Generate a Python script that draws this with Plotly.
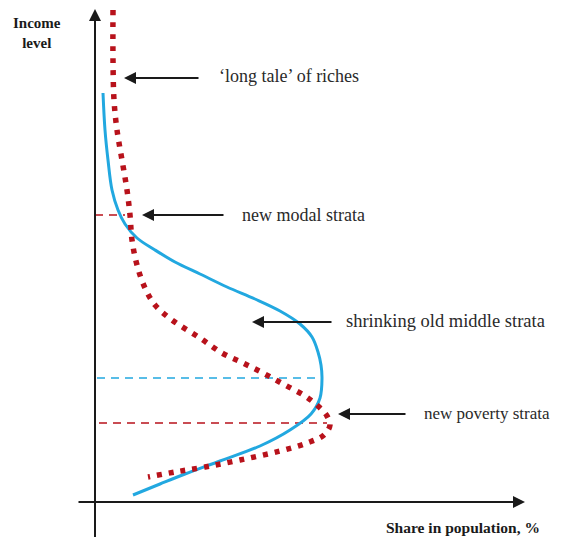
import plotly.graph_objects as go

# Conceptual data: share in population (x, arbitrary units) vs income level (y, arbitrary units)
new_share = [18, 18, 19, 22, 27, 32, 35, 37, 42, 50, 60, 77, 105, 127, 148, 168, 190, 210, 223, 232, 235, 229, 212, 185, 145, 110, 80, 53]
new_income = [492, 442, 402, 372, 342, 312, 287, 262, 237, 214, 197, 182, 164, 149, 139, 129, 117, 106, 96, 86, 77, 67, 59, 51, 42, 35, 30, 25]

old_share = [8, 10, 13, 17, 23, 30, 42, 60, 80, 105, 132, 160, 185, 205, 217, 223, 226, 227, 225, 216, 195, 165, 125, 90, 65, 38]
old_income = [409, 372, 342, 312, 292, 278, 264, 252, 240, 228, 215, 203, 191, 178, 165, 150, 137, 124, 104, 88, 72, 56, 41, 28, 18, 7]

# reference levels
modal_income = 287
modal_share = 30
old_mode_income = 124
old_mode_share = 225
poverty_income = 79
poverty_share = 232

# annotation labels: (text, arrow tip share, tip income, tail share, text share, text income, font size)
labels = [
    ("\u2018long tale\u2019 of riches", 29, 424, 105, 122, 426, 18),
    ("new modal strata", 47, 287, 130, 145, 287, 18),
    ("shrinking old middle strata", 157, 180, 238, 249, 181, 18.5),
    ("new poverty strata", 243, 88, 312, 327, 89, 17),
]

RED = "#B8121B"
BLUE = "#22A8E0"
INK = "#1a1a1a"
FONT = "Liberation Serif"

fig = go.Figure()

# dashed reference lines
fig.add_trace(go.Scatter(x=[0, modal_share], y=[modal_income, modal_income], mode="lines",
                         line=dict(color=RED, width=1.6, dash="8px,6px"), hoverinfo="skip"))
fig.add_trace(go.Scatter(x=[2, old_mode_share], y=[old_mode_income, old_mode_income], mode="lines",
                         line=dict(color=BLUE, width=1.6, dash="8px,6px"), hoverinfo="skip"))
fig.add_trace(go.Scatter(x=[4, poverty_share], y=[poverty_income, poverty_income], mode="lines",
                         line=dict(color=RED, width=1.6, dash="8px,6px"), hoverinfo="skip"))

# old distribution (solid blue)
fig.add_trace(go.Scatter(x=old_share, y=old_income, mode="lines",
                         line=dict(color=BLUE, width=3, shape="spline", smoothing=1.0), hoverinfo="skip"))
# new distribution (dotted red)
fig.add_trace(go.Scatter(x=new_share, y=new_income, mode="lines",
                         line=dict(color=RED, width=5.5, shape="spline", smoothing=1.0, dash="5px,7px"),
                         hoverinfo="skip"))

annotations = []
# axes with arrows
annotations.append(dict(x=0, y=493, ax=0, ay=-40, xref="x", yref="y", axref="x", ayref="y",
                        text="", showarrow=True, arrowhead=2, arrowsize=1.2, arrowwidth=2, arrowcolor=INK))
annotations.append(dict(x=430, y=0, ax=-18, ay=0, xref="x", yref="y", axref="x", ayref="y",
                        text="", showarrow=True, arrowhead=2, arrowsize=1.2, arrowwidth=2, arrowcolor=INK))

for text, tx, ty, tailx, lx, ly, fs in labels:
    annotations.append(dict(x=tx, y=ty, ax=tailx, ay=ty, xref="x", yref="y", axref="x", ayref="y",
                            text="", showarrow=True, arrowhead=2, arrowsize=1.2, arrowwidth=2, arrowcolor=INK))
    annotations.append(dict(x=lx, y=ly, xref="x", yref="y", text=text, showarrow=False,
                            xanchor="left", yanchor="middle",
                            font=dict(family=FONT, size=fs, color="#2a2a2a")))

annotations.append(dict(x=-58, y=469, xref="x", yref="y", text="<b>Income</b><br><b>level</b>",
                        showarrow=False, xanchor="center", yanchor="middle", align="center",
                        font=dict(family=FONT, size=15, color=INK)))
annotations.append(dict(x=289, y=-25, xref="x", yref="y", text="<b>Share in population, %</b>",
                        showarrow=False, xanchor="left", yanchor="middle",
                        font=dict(family=FONT, size=15.5, color=INK)))

# the page adds an 8px body margin, so the figure is 8px smaller and ranges compensate
fig.update_layout(
    width=555, height=529,
    margin=dict(l=0, r=0, t=0, b=0),
    paper_bgcolor="white", plot_bgcolor="white",
    showlegend=False,
    xaxis=dict(range=[-87, 468], visible=False, fixedrange=True),
    yaxis=dict(range=[-35, 494], visible=False, fixedrange=True),
    annotations=annotations,
)

fig.write_html("out.html")
